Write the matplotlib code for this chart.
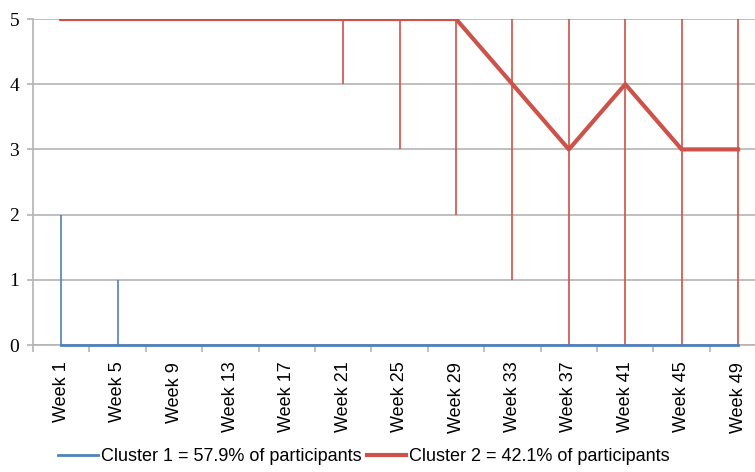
import numpy as np
import matplotlib
matplotlib.use('Agg')
import matplotlib.pyplot as plt

weeks = ['Week 1', 'Week 5', 'Week 9', 'Week 13', 'Week 17', 'Week 21', 'Week 25',
         'Week 29', 'Week 33', 'Week 37', 'Week 41', 'Week 45', 'Week 49']
# cluster 1: median score and range
c1_med = [0, 0, 0, 0, 0, 0, 0, 0, 0, 0, 0, 0, 0]
c1_min = [0, 0, 0, 0, 0, 0, 0, 0, 0, 0, 0, 0, 0]
c1_max = [2, 1, 0, 0, 0, 0, 0, 0, 0, 0, 0, 0, 0]
# cluster 2: median score and range
c2_med = [5, 5, 5, 5, 5, 5, 5, 5, 4, 3, 4, 3, 3]
c2_min = [5, 5, 5, 5, 5, 4, 3, 2, 1, 0, 0, 0, 0]
c2_max = [5, 5, 5, 5, 5, 5, 5, 5, 5, 5, 5, 5, 5]
labels = ['Cluster 1 = 57.9% of participants', 'Cluster 2 = 42.1% of participants']

blue = '#4F81BD'
red = '#CD5249'
grid = '#B4B4B4'

x = np.arange(len(weeks))
c1_med = np.array(c1_med); c2_med = np.array(c2_med)
c1_err = [c1_med - np.array(c1_min), np.array(c1_max) - c1_med]
c2_err = [c2_med - np.array(c2_min), np.array(c2_max) - c2_med]

fig = plt.figure(figsize=(7.55, 4.72), dpi=100)
ax = fig.add_axes([33/755, 1-345/472, 1-33/755, (345-19)/472])

c2 = ax.errorbar(x, c2_med, yerr=c2_err, color=red, lw=3, elinewidth=1.2,
                 capsize=0, label=labels[1], zorder=3)
c1 = ax.errorbar(x, c1_med, yerr=c1_err, color=blue, lw=2, elinewidth=1.2,
                 capsize=0, label=labels[0], zorder=4)
# keep the flat cluster 1 line visible over the x axis
c1.lines[0].set_clip_on(False)
c1.lines[0].set_zorder(5)

ax.set_xlim(-0.5, 12.3)
ax.set_ylim(0, 5)
ax.set_yticks(range(6))
ax.yaxis.grid(True, color=grid, lw=1.2)
ax.set_axisbelow(True)

ax.set_xticks(x)
ax.set_xticklabels(weeks, rotation=90, fontsize=13, family='Liberation Sans')
ax.set_xticks(np.arange(-0.5, 12.5, 1), minor=True)
ax.tick_params(axis='x', which='major', length=0, pad=12)
ax.tick_params(axis='x', which='minor', length=5, color=grid, width=1.2, direction='out')
ax.tick_params(axis='y', length=4, color=grid, width=1.2, pad=6)
for t in ax.get_yticklabels():
    t.set_family('Liberation Serif')
    t.set_fontsize(14)

for s in ['top', 'right']:
    ax.spines[s].set_visible(False)
for s in ['left', 'bottom']:
    ax.spines[s].set_color(grid)
    ax.spines[s].set_linewidth(1.2)

h = [c1[0], c2[0]]
fig.legend(h, labels, loc='center', bbox_to_anchor=(0.482, 0.032), ncol=2, frameon=False,
           prop={'family': 'Liberation Sans', 'size': 13}, handlelength=2.2,
           handletextpad=0.15, columnspacing=0.3)

fig.savefig('out.png', dpi=100)
